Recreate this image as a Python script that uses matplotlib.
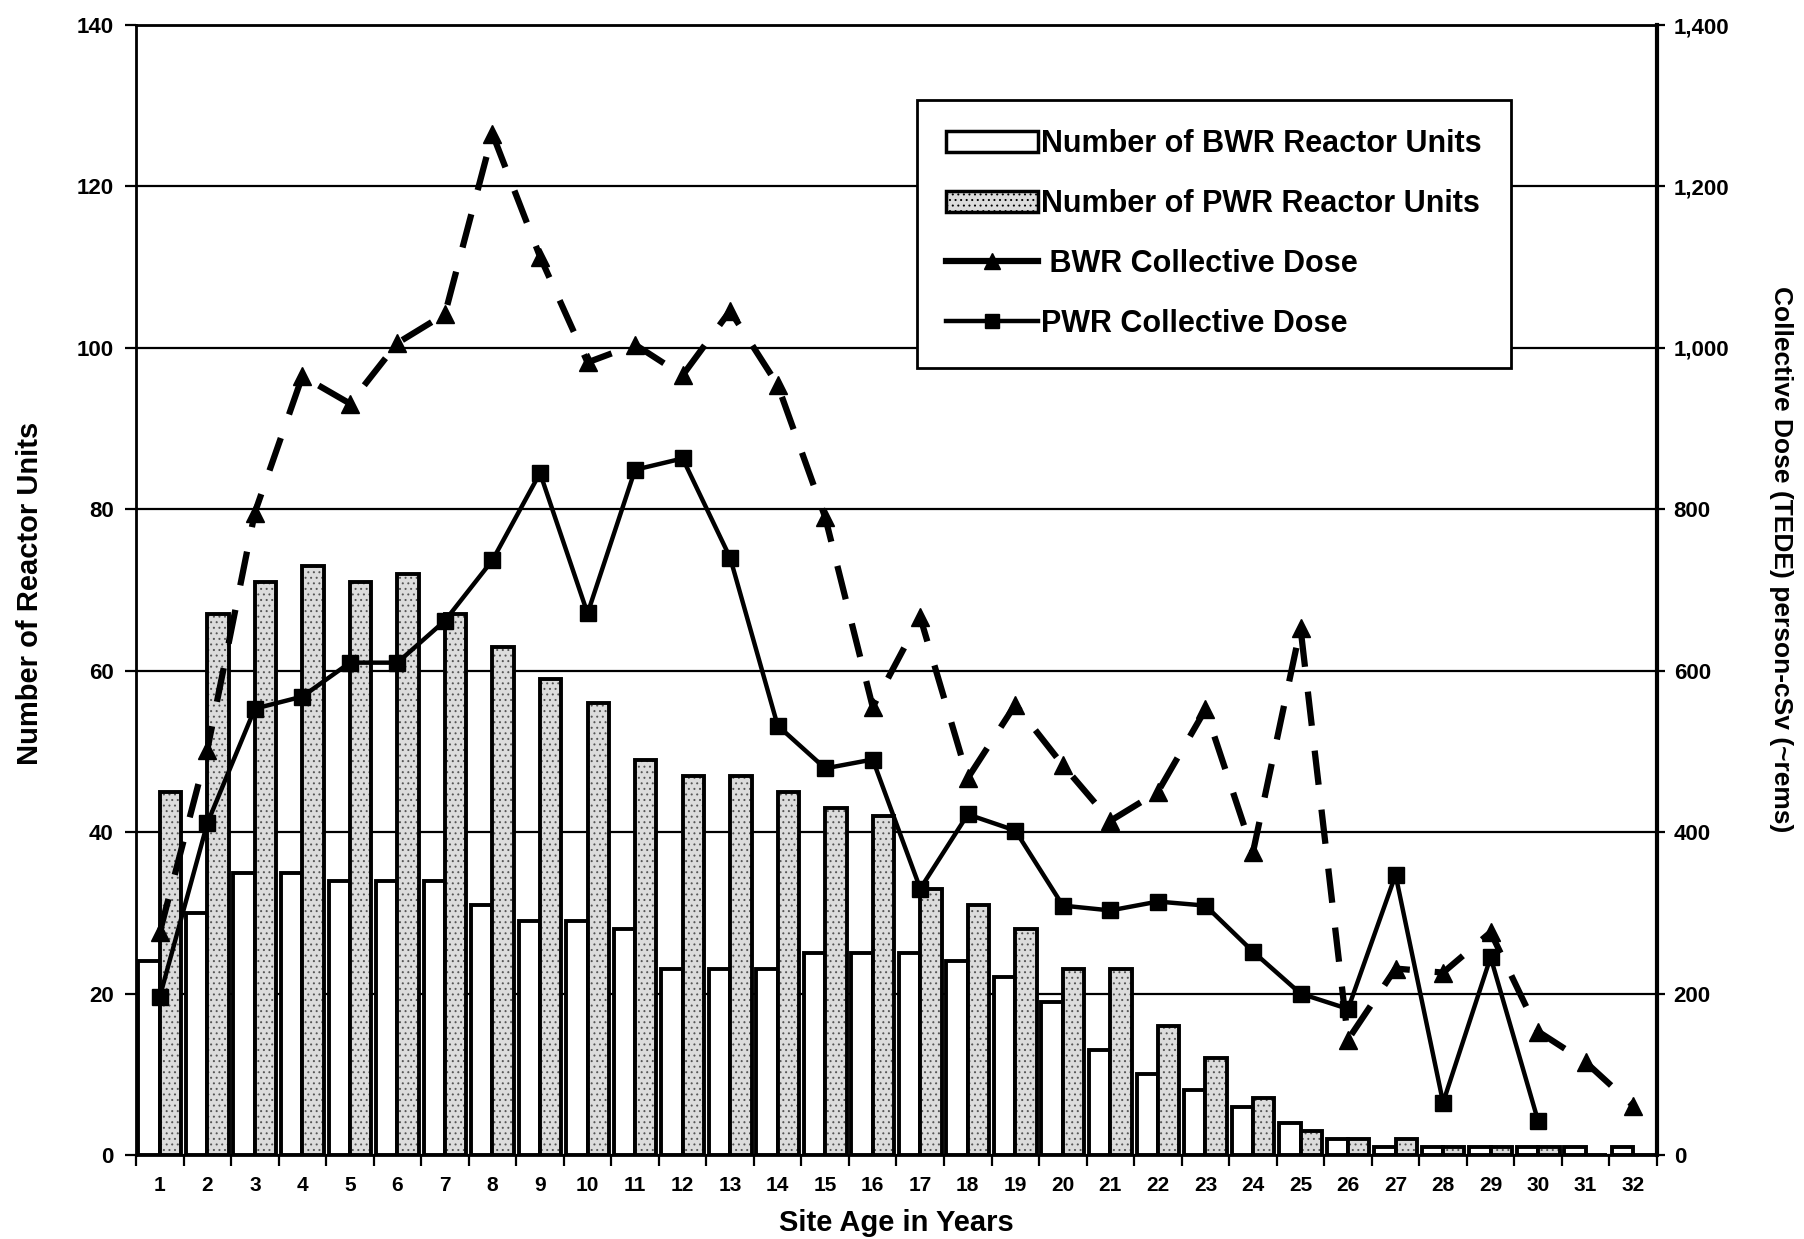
import numpy as np
import matplotlib
matplotlib.use('Agg')
import matplotlib.pyplot as plt
from matplotlib.patches import Patch
from matplotlib.lines import Line2D
from matplotlib.ticker import FuncFormatter

plt.rcParams['font.family'] = ['Liberation Sans', 'DejaVu Sans']
plt.rcParams['font.weight'] = 'bold'
plt.rcParams['hatch.linewidth'] = 0.7

# data
years = list(range(1, 33))
bwr_units = [24, 30, 35, 35, 34, 34, 34, 31, 29, 29, 28, 23, 23, 23, 25, 25,
             25, 24, 22, 19, 13, 10, 8, 6, 4, 2, 1, 1, 1, 1, 1, 1]
pwr_units = [45, 67, 71, 73, 71, 72, 67, 63, 59, 56, 49, 47, 47, 45, 43, 42,
             33, 31, 28, 23, 23, 16, 12, 7, 3, 2, 2, 1, 1, 1, 0, 0]
bwr_dose = [276, 502, 796, 965, 931, 1006, 1042, 1265, 1113, 982, 1004, 966,
            1046, 954, 790, 555, 666, 467, 558, 483, 414, 450, 552, 375, 653,
            143, 231, 226, 276, 153, 115, 61]
pwr_years = list(range(1, 31))
pwr_dose = [196, 411, 553, 568, 610, 610, 662, 737, 845, 671, 849, 863, 740,
            532, 479, 490, 330, 422, 402, 309, 303, 314, 309, 252, 200, 181,
            347, 65, 245, 42]

x = np.array(years)
w = 0.45

fig = plt.figure(figsize=(18.04, 12.39), dpi=100)
ax = fig.add_axes([0.0754, 0.0678, 0.8431, 0.912])

ax.bar(x - w/2, bwr_units, w, facecolor='white', edgecolor='black', lw=2.8, zorder=2)
ax.bar(x + w/2, pwr_units, w, facecolor='#dcdcdc', edgecolor='#555555', hatch='...', lw=0, zorder=2)
ax.bar(x + w/2, pwr_units, w, facecolor='none', edgecolor='black', lw=2.8, zorder=3)

ax.set_xlim(0.5, 32.5)
ax.set_ylim(0, 140)
ax.set_yticks(np.arange(0, 141, 20))
ax.set_axisbelow(True)
ax.yaxis.grid(True, color='black', lw=1.6)
ax.set_xticks(x)
ax.set_xticklabels([str(v) for v in years], fontsize=15)
ax.set_xticks(np.arange(0.5, 33, 1), minor=True)
ax.tick_params(axis='x', which='major', length=0, pad=15)
ax.tick_params(axis='x', which='minor', length=8, width=1.6, direction='out')
ax.tick_params(axis='y', length=8, width=1.6, direction='out', labelsize=16, pad=8)
for s in ax.spines.values():
    s.set_linewidth(2)

ax2 = ax.twinx()
ax2.set_ylim(0, 1400)
ax2.set_yticks(np.arange(0, 1401, 200))
ax2.yaxis.set_major_formatter(FuncFormatter(lambda v, p: f'{v:,.0f}'))
ax2.tick_params(axis='y', length=6, width=1.6, direction='out', labelsize=16, pad=6)
ax2.spines['right'].set_linewidth(3)

ax2.plot(x, bwr_dose, color='black', lw=4.5, ls=(0, (5.5, 4)), marker='^',
         ms=13, zorder=4)
ax2.plot(pwr_years, pwr_dose, color='black', lw=3.2, marker='s', ms=11, zorder=5)

handles = [
    Patch(facecolor='white', edgecolor='black', lw=2.5),
    Patch(facecolor='#dcdcdc', edgecolor='black', hatch='...', lw=2.5),
    Line2D([], [], color='black', lw=4.5, marker='^', ms=12),
    Line2D([], [], color='black', lw=3.2, marker='s', ms=10),
]
labels = ['Number of BWR Reactor Units', 'Number of PWR Reactor Units',
          ' BWR Collective Dose', 'PWR Collective Dose']
leg = ax2.legend(handles, labels, loc='upper left', bbox_to_anchor=(0.5135, 0.9336),
                 fontsize=22, frameon=True, fancybox=False, framealpha=1,
                 edgecolor='black', borderpad=0.95, labelspacing=0.98,
                 handlelength=3.0, handletextpad=0.12, borderaxespad=0)
leg.get_frame().set_linewidth(2)

fig.text(0.0165, 0.5214, 'Number of Reactor Units', rotation=90,
         ha='center', va='center', fontsize=21)
fig.text(0.987, 0.549, 'Collective Dose (TEDE) person-cSv (~rems)', rotation=270,
         ha='center', va='center', fontsize=19)
fig.text(0.497, 0.013, 'Site Age in Years', ha='center', va='center', fontsize=21)

fig.savefig('out.png', dpi=100, facecolor='white')
